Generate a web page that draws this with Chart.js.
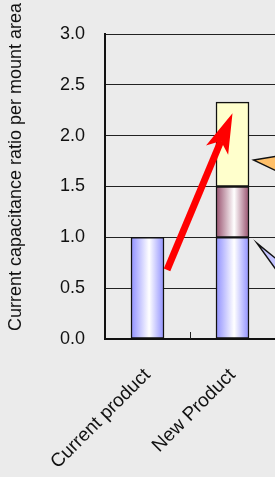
<!DOCTYPE html>
<html>
<head>
<meta charset="utf-8">
<script src="https://cdn.jsdelivr.net/npm/chart.js@4.4.1/dist/chart.umd.min.js"></script>
<style>
  html, body { margin: 0; padding: 0; background: #ebebeb; overflow: hidden; }
  #wrap { width: 275px; height: 477px; position: relative; }
</style>
</head>
<body>
<div id="wrap"><canvas id="chart"></canvas></div>
<script>
const categories = ['Current product', 'New Product']
const baseValues = [1.0, 1.0]
const middleValues = [null, 0.5]
const topValues = [null, 0.83]
const yTicks = [0, 0.5, 1.0, 1.5, 2.0, 2.5, 3.0]
const yTitle = 'Current capacitance ratio per mount area'

// arrow and callout pointers, in [category, value] coordinates
const arrowFrom = [0.23, 0.68]
const arrowTo = [1.0, 2.22]
const orangePointer = [[1.25, 1.76], [1.6, 1.81], [1.6, 1.62]]
const lavenderPointer = [[1.29, 0.94], [1.6, 0.73], [1.6, 0.58]]

const FONT = 'Liberation Sans, Arial, sans-serif'
const BAR_W = 33

// horizontal gradient across a bar, white highlight near the middle
function barGradient(edge) {
  return (ctx) => {
    const chart = ctx.chart
    const xScale = chart.scales.x
    if (!xScale || !chart.chartArea) return edge
    const cx = xScale.getPixelForValue(ctx.dataIndex)
    const g = chart.ctx.createLinearGradient(cx - BAR_W / 2, 0, cx + BAR_W / 2, 0)
    g.addColorStop(0, edge)
    g.addColorStop(0.55, '#ffffff')
    g.addColorStop(1, edge)
    return g
  }
}

// y title sits a bit higher than the plot centre in the original
const titlePlugin = {
  id: 'yTitle',
  afterDraw(chart) {
    const ctx = chart.ctx
    ctx.save()
    ctx.translate(16, 167)
    ctx.rotate(-Math.PI / 2)
    ctx.font = '18px ' + FONT
    ctx.fillStyle = '#111'
    ctx.textAlign = 'center'
    ctx.textBaseline = 'middle'
    ctx.fillText(yTitle, 0, 0)
    ctx.restore()
  }
}

const overlayPlugin = {
  id: 'overlay',
  afterDatasetsDraw(chart) {
    const {ctx, scales: {x, y}, chartArea} = chart
    ctx.save()
    ctx.beginPath()
    ctx.rect(chartArea.left, chartArea.top, chartArea.right - chartArea.left + 2, chartArea.bottom - chartArea.top)
    ctx.clip()

    // short ticks between categories, pointing up into the plot
    ctx.strokeStyle = '#222'
    ctx.lineWidth = 1
    for (let i = 0; i < categories.length; i++) {
      const px = Math.round(x.getPixelForValue(i + 0.5)) + 0.5
      ctx.beginPath()
      ctx.moveTo(px, chartArea.bottom)
      ctx.lineTo(px, chartArea.bottom - 7)
      ctx.stroke()
    }

    // callout pointers
    const drawPointer = (pts, fill) => {
      ctx.beginPath()
      pts.forEach((p, i) => {
        const px = x.getPixelForValue(p[0])
        const py = y.getPixelForValue(p[1])
        if (i === 0) ctx.moveTo(px, py)
        else ctx.lineTo(px, py)
      })
      ctx.closePath()
      ctx.fillStyle = fill
      ctx.fill()
      ctx.strokeStyle = '#111'
      ctx.lineWidth = 1.5
      ctx.stroke()
    }
    drawPointer(orangePointer, '#ffc06a')
    drawPointer(lavenderPointer, '#c4c4ff')

    // red arrow
    const x0 = x.getPixelForValue(arrowFrom[0]), y0 = y.getPixelForValue(arrowFrom[1])
    const x1 = x.getPixelForValue(arrowTo[0]), y1 = y.getPixelForValue(arrowTo[1])
    const len = Math.hypot(x1 - x0, y1 - y0)
    const ux = (x1 - x0) / len, uy = (y1 - y0) / len
    const nx = -uy, ny = ux
    const headLen = 40, headHalf = 12, notch = 30
    ctx.strokeStyle = '#ff0000'
    ctx.fillStyle = '#ff0000'
    ctx.lineWidth = 7
    ctx.lineCap = 'butt'
    ctx.beginPath()
    ctx.moveTo(x0, y0)
    ctx.lineTo(x1 - ux * notch, y1 - uy * notch)
    ctx.stroke()
    ctx.beginPath()
    ctx.moveTo(x1, y1)
    ctx.lineTo(x1 - ux * headLen + nx * headHalf, y1 - uy * headLen + ny * headHalf)
    ctx.lineTo(x1 - ux * notch, y1 - uy * notch)
    ctx.lineTo(x1 - ux * headLen - nx * headHalf, y1 - uy * headLen - ny * headHalf)
    ctx.closePath()
    ctx.fill()
    ctx.restore()
  }
}

const config = {
  type: 'bar',
  data: {
    labels: categories,
    datasets: [
      {data: baseValues, backgroundColor: barGradient('#9090ff')},
      {data: middleValues, backgroundColor: barGradient('#98506e')},
      {data: topValues, backgroundColor: '#ffffcc'}
    ].map(d => Object.assign(d, {
      borderColor: '#111',
      borderWidth: 1.5,
      borderSkipped: false,
      barThickness: BAR_W
    }))
  },
  options: {
    responsive: true,
    maintainAspectRatio: false,
    animation: false,
    layout: {padding: {top: 34, right: 0, left: 0, bottom: 0}},
    plugins: {
      legend: {display: false},
      tooltip: {enabled: false}
    },
    scales: {
      x: {
        stacked: true,
        grid: {display: false},
        border: {color: '#111', width: 2},
        ticks: {
          color: '#111',
          font: {family: FONT, size: 19},
          minRotation: 45,
          maxRotation: 45,
          padding: 17
        },
        afterFit: (scale) => { scale.height = 138 }
      },
      y: {
        stacked: true,
        min: 0,
        max: 3,
        afterBuildTicks: (scale) => { scale.ticks = yTicks.map(v => ({value: v})) },
        grid: {color: '#222', lineWidth: 1, drawTicks: false},
        border: {color: '#111', width: 2},
        ticks: {
          color: '#111',
          font: {family: FONT, size: 18},
          padding: 20,
          callback: (v) => Number(v).toFixed(1)
        },
        afterFit: (scale) => { scale.width = 105 }
      }
    }
  },
  plugins: [overlayPlugin, titlePlugin]
}

new Chart(document.getElementById('chart'), config)
</script>
</body>
</html>
